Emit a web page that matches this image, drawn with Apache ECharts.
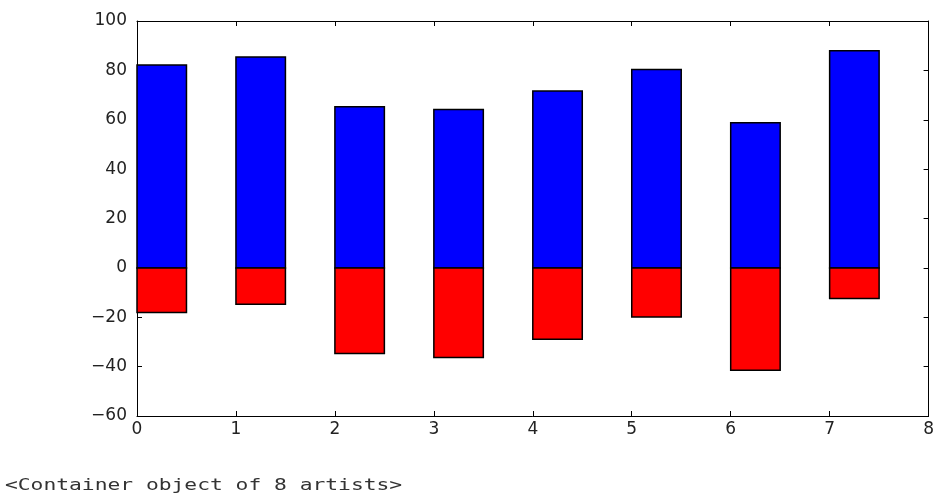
<!DOCTYPE html>
<html>
<head>
<meta charset="utf-8">
<script src="https://cdn.jsdelivr.net/npm/echarts@6/dist/echarts.min.js"></script>
<style>
html,body{margin:0;padding:0;background:#fff;}
#chart{width:937px;height:494px;}
</style>
</head>
<body>
<div id="chart"></div>
<script>
// Data
const categories = [0, 1, 2, 3, 4, 5, 6, 7];
const positiveValues = [82.2, 85.4, 65.3, 64.2, 71.6, 80.4, 58.8, 88.0];
const negativeValues = [-18.1, -14.7, -34.7, -36.3, -28.9, -19.9, -41.5, -12.4];
const xTicks = [0, 1, 2, 3, 4, 5, 6, 7, 8];
const yTicks = [-60, -40, -20, 0, 20, 40, 60, 80, 100];
const captionText = '<Container object of 8 artists>';

const BAR_W = 0.5;
const chart = echarts.init(document.getElementById('chart'));

function barRender(fillColor) {
  return function (params, api) {
    const x0 = api.value(0);
    const v = api.value(1);
    const p0 = api.coord([x0, 0]);
    const p1 = api.coord([x0 + BAR_W, v]);
    return {
      type: 'rect',
      shape: {
        x: p0[0],
        y: Math.min(p0[1], p1[1]),
        width: p1[0] - p0[0],
        height: Math.abs(p1[1] - p0[1])
      },
      style: { fill: fillColor, stroke: '#000', lineWidth: 1.5 }
    };
  };
}

const labelStyle = {
  color: '#222',
  fontFamily: 'DejaVu Sans',
  fontSize: 17
};
const fmtMinus = v => String(v).replace('-', '\u2212');

const baseX = {
  type: 'value',
  min: xTicks[0],
  max: xTicks[xTicks.length - 1],
  interval: 1,
  splitLine: { show: false },
  axisLine: { show: true, onZero: false, lineStyle: { color: '#000', width: 1 } },
  axisTick: { show: true, inside: true, length: 5, lineStyle: { color: '#000' } }
};
const baseY = {
  type: 'value',
  min: yTicks[0],
  max: yTicks[yTicks.length - 1],
  interval: 20,
  splitLine: { show: false },
  axisLine: { show: true, onZero: false, lineStyle: { color: '#000', width: 1 } },
  axisTick: { show: true, inside: true, length: 5, lineStyle: { color: '#000' } }
};

chart.setOption({
  animation: false,
  backgroundColor: '#fff',
  grid: { left: 137, right: 4, top: 21, bottom: 78, containLabel: false },
  xAxis: [
    Object.assign({}, baseX, {
      position: 'bottom',
      axisLabel: Object.assign({ margin: 5, formatter: fmtMinus }, labelStyle)
    }),
    Object.assign({}, baseX, { position: 'top', axisLabel: { show: false } })
  ],
  yAxis: [
    Object.assign({}, baseY, {
      position: 'left',
      axisLabel: Object.assign({ margin: 10, formatter: fmtMinus }, labelStyle)
    }),
    Object.assign({}, baseY, { position: 'right', axisLabel: { show: false } })
  ],
  series: [
    {
      type: 'custom',
      name: 'positive',
      xAxisIndex: 0,
      yAxisIndex: 0,
      encode: { x: 0, y: 1 },
      renderItem: barRender('#0000ff'),
      data: categories.map((c, i) => [c, positiveValues[i]])
    },
    {
      type: 'custom',
      name: 'negative',
      xAxisIndex: 0,
      yAxisIndex: 0,
      encode: { x: 0, y: 1 },
      renderItem: barRender('#ff0000'),
      data: categories.map((c, i) => [c, negativeValues[i]])
    }
  ],
  graphic: [
    {
      type: 'text',
      left: 5,
      top: 478,
      scaleX: 1.33,
      style: {
        text: captionText,
        fill: '#333',
        fontFamily: 'DejaVu Sans Mono',
        fontSize: 16
      }
    }
  ]
});
</script>
</body>
</html>
